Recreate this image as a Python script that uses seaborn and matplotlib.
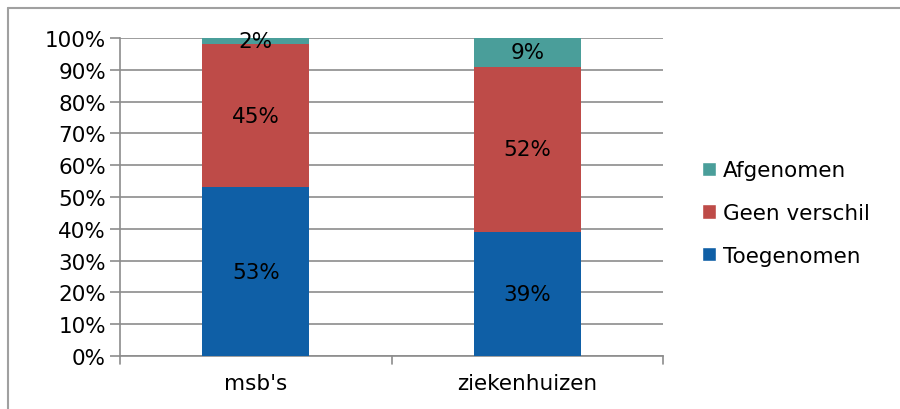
import numpy as np
import pandas as pd
import matplotlib
matplotlib.use("Agg")
import matplotlib.pyplot as plt
import seaborn as sns
from matplotlib.lines import Line2D
from matplotlib.patches import Patch

categories = ["msb's", "ziekenhuizen"]
toegenomen = [53, 39]
geen_verschil = [45, 52]
afgenomen = [2, 9]
series_names = ["Toegenomen", "Geen verschil", "Afgenomen"]
colors = ["#0F5FA6", "#BE4B48", "#4A9E9A"]

sns.set_theme(style="white")
plt.rcParams['font.family'] = ['DejaVu Sans']
plt.rcParams['text.color'] = 'black'
FS = 15.5

df = pd.DataFrame({"cat": categories, "Toegenomen": toegenomen,
                   "Geen verschil": geen_verschil, "Afgenomen": afgenomen})

fig = plt.figure(figsize=(9, 4.1), dpi=100)
ax = fig.add_axes([120 / 900, 1 - 357 / 410, 543 / 900, 318 / 410])

# stacked bars: draw cumulative totals from top layer down
cum = df[series_names].cumsum(axis=1)
for name, col in reversed(list(zip(series_names, colors))):
    sns.barplot(x=df["cat"], y=cum[name], color=col, width=0.395,
                saturation=1, linewidth=0, ax=ax, zorder=3)

# value labels in the middle of each segment
for i in range(len(categories)):
    base = 0
    for name in series_names:
        v = df[name][i]
        ax.text(i, base + v / 2, f"{v}%", ha="center", va="center",
                fontsize=FS, color="black", zorder=4)
        base += v

ax.set_xlim(-0.5, 1.5)
ax.set_ylim(0, 100)
ax.set_yticks(np.arange(0, 101, 10))
ax.set_yticklabels([f"{t}%" for t in range(0, 101, 10)], fontsize=FS, color="black")
ax.set_xticks([0, 1])
ax.set_xticklabels(categories, fontsize=FS, color="black")
ax.set_xlabel("")
ax.set_ylabel("")
ax.yaxis.grid(True, color="#8C8C8C", linewidth=1.2, zorder=0)
ax.set_axisbelow(True)
for s in ["top", "right"]:
    ax.spines[s].set_visible(False)
for s in ["left", "bottom"]:
    ax.spines[s].set_color("#8C8C8C")
    ax.spines[s].set_linewidth(1.2)
ax.tick_params(axis="y", length=7, color="#8C8C8C", width=1.2, left=True, pad=3)
ax.tick_params(axis="x", length=0, pad=12)
# x tick marks between categories
for xb in [-0.5, 0.5, 1.5]:
    ax.plot([xb, xb], [0, -2.5], color="#8C8C8C", lw=1.2, clip_on=False)

handles = [Patch(facecolor=c, label=n) for n, c in zip(series_names, colors)][::-1]
fig.legend(handles=handles, loc="center left", bbox_to_anchor=(0.759, 0.478),
           frameon=False, fontsize=FS, handlelength=0.65, handleheight=0.65,
           handletextpad=0.3, labelspacing=1.05, labelcolor="black")

# outer frame: only top and left edges are visible
fig.add_artist(Line2D([8 / 900, 8 / 900], [0, 1 - 9 / 410], transform=fig.transFigure,
                      color="#A0A0A0", lw=1.5))
fig.add_artist(Line2D([8 / 900, 1], [1 - 9 / 410, 1 - 9 / 410], transform=fig.transFigure,
                      color="#A0A0A0", lw=1.5))

fig.savefig("out.png", dpi=100)
